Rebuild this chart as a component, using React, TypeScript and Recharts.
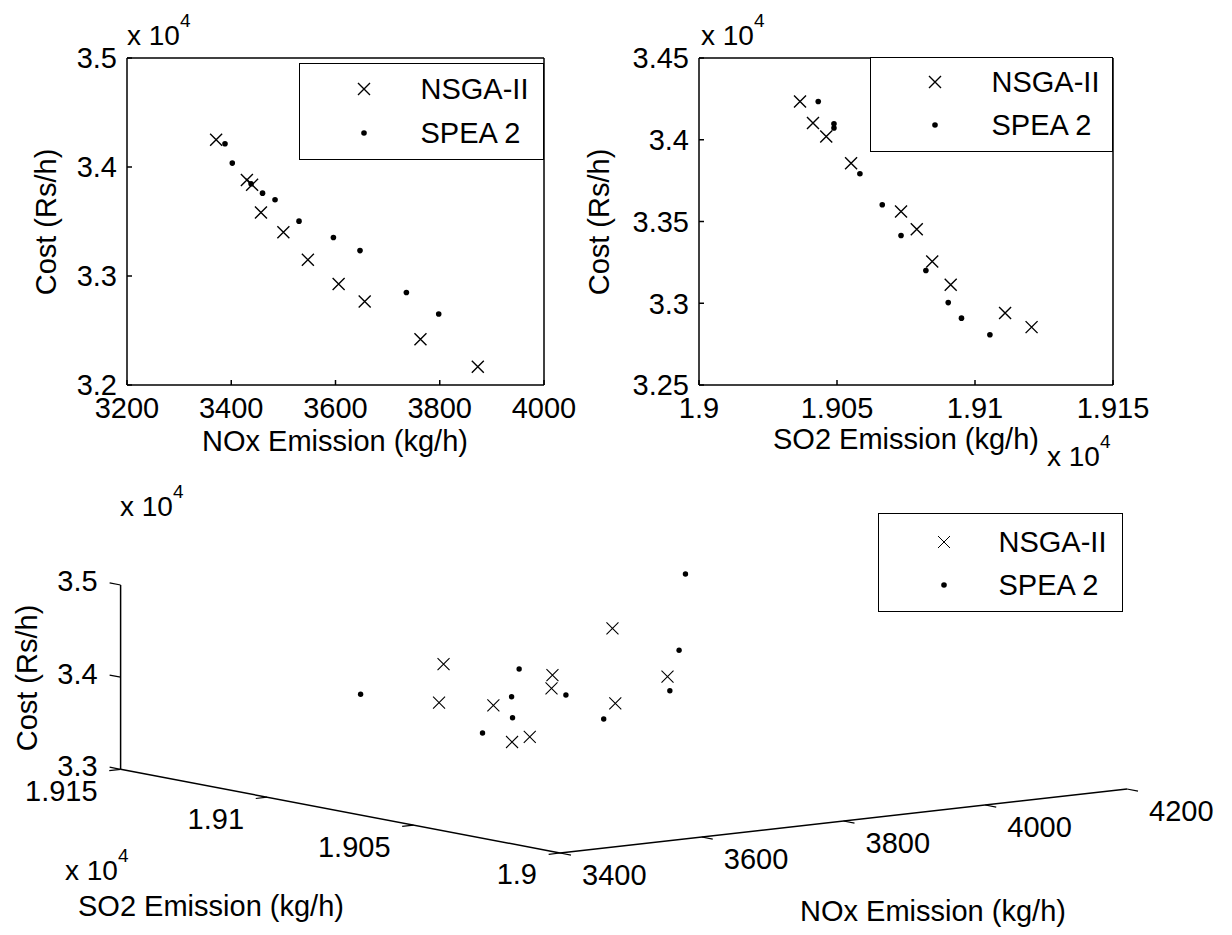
import React from "react";
import { ScatterChart, Scatter, XAxis, YAxis, Legend, ReferenceLine } from "recharts";

// top-left plot: cost against NOx
const nsgaNox = [3371, 3430, 3440, 3457, 3500, 3547, 3606, 3656, 3763, 3873];
const nsgaNoxCost = [34250, 33880, 33837, 33582, 33402, 33148, 32927, 32765, 32420, 32168];
const speaNox = [3388, 3402, 3438, 3460, 3484, 3530, 3596, 3647, 3736, 3798];
const speaNoxCost = [34213, 34036, 33846, 33760, 33699, 33503, 33353, 33233, 32848, 32652];

// top-right plot: cost against SO2
const nsgaSo2 = [19036.6, 19041.3, 19046.1, 19055.1, 19073.2, 19078.9, 19084.5, 19091.2, 19110.9, 19120.5];
const nsgaSo2Cost = [34234, 34102, 34020, 33857, 33561, 33453, 33255, 33113, 32940, 32854];
const speaSo2 = [19043.2, 19048.9, 19048.9, 19058.3, 19066.4, 19073.2, 19082.2, 19090.3, 19095.1, 19105.4];
const speaSo2Cost = [34234, 34098, 34072, 33792, 33602, 33414, 33200, 33004, 32909, 32807];

// bottom 3-D plot (estimated from the projection)
const nsga3dNox = [3525, 3498, 3554, 3539, 3564, 3658, 3636, 3784, 3664, 3779];
const nsga3dSo2 = [19070, 19065, 19060, 19050, 19050, 19065, 19060, 19075, 19045, 19055];
const nsga3dCost = [34518, 34152, 34106, 33781, 33816, 34313, 34219, 34651, 34123, 34251];
const spea3dNox = [3470, 3673, 3621, 3581, 3518, 3615, 3627, 3741, 3816, 3949];
const spea3dSo2 = [19085, 19080, 19070, 19060, 19055, 19050, 19040, 19045, 19060, 19090];
const spea3dCost = [34147, 34275, 34080, 33947, 33867, 34225, 34015, 34193, 34475, 35006];

const noxTicks = [3200, 3400, 3600, 3800, 4000];
const costTicks1 = [32000, 33000, 34000, 35000];
const so2Ticks = [19000, 19050, 19100, 19150];
const costTicks2 = [32500, 33000, 33500, 34000, 34500];
const noxTicks3d = [3400, 3600, 3800, 4000, 4200];
const so2Ticks3d = [19000, 19050, 19100, 19150];
const costTicks3d = [33000, 34000, 35000];
const seriesNames = ["NSGA-II", "SPEA 2"];

const FONT = "'Liberation Sans', Arial, sans-serif";
const sci = (v: number) => String(v / 1e4);
const zip = (xs: number[], ys: number[]) => xs.map((x, i) => ({ x, y: ys[i] }));

const Cross = ({ cx, cy, r = 6, w = 1.4 }: any) => (
  <path
    d={`M${cx - r},${cy - r}L${cx + r},${cy + r}M${cx - r},${cy + r}L${cx + r},${cy - r}`}
    stroke="#000"
    strokeWidth={w}
    fill="none"
  />
);
const Dot = ({ cx, cy, r = 2.8 }: any) => <circle cx={cx} cy={cy} r={r} fill="#000" />;

const legendContent = (rows: number[], markerX: number, textX: number, thin?: boolean) => () => (
  <div
    style={{
      position: "relative",
      width: "100%",
      height: "100%",
      boxSizing: "border-box",
      border: "1.5px solid #000",
      background: "#fff",
      fontFamily: FONT,
    }}
  >
    {seriesNames.map((name, i) => (
      <React.Fragment key={name}>
        <svg width={16} height={16} style={{ position: "absolute", left: markerX - 9, top: rows[i] - 9 }}>
          {i === 0 ? <Cross cx={8} cy={8} w={thin ? 1 : 1.4} /> : <Dot cx={8} cy={8} />}
        </svg>
        <span
          style={{
            position: "absolute",
            left: textX - 1.5,
            top: rows[i] - 1.5,
            transform: "translateY(-50%)",
            fontSize: 29,
            lineHeight: 1,
            whiteSpace: "nowrap",
            color: "#000",
          }}
        >
          {name}
        </span>
      </React.Fragment>
    ))}
  </div>
);

const tickStyle = { fontSize: 29, fill: "#000", fontFamily: FONT };
const lineStyle = { stroke: "#000", strokeWidth: 1.5 };

// axes get 1px of room (a zero-size axis is not drawn), margins make up the rest
function Plot2D(props: any) {
  const { left, width, box, xDomain, xTicks, yDomain, yTicks, nsga, spea, legend, legendPos } = props;
  const margin = { top: box.top - 1, right: box.right - 1, bottom: box.bottom - 1, left: box.left - 1 };
  return (
    <div style={{ position: "absolute", left, top: 0 }}>
      <ScatterChart width={width} height={470} margin={margin}>
        <XAxis
          type="number"
          dataKey="x"
          domain={xDomain}
          ticks={xTicks}
          interval={0}
          allowDataOverflow
          height={1}
          tickSize={-5}
          tickMargin={17}
          tickFormatter={props.xFmt}
          tick={tickStyle}
          axisLine={lineStyle}
          tickLine={lineStyle}
        />
        <XAxis
          xAxisId="top"
          orientation="top"
          type="number"
          dataKey="x"
          domain={xDomain}
          ticks={xTicks}
          interval={0}
          allowDataOverflow
          height={1}
          tickSize={-5}
          tick={false}
          axisLine={lineStyle}
          tickLine={lineStyle}
        />
        <YAxis
          type="number"
          dataKey="y"
          domain={yDomain}
          ticks={yTicks}
          interval={0}
          allowDataOverflow
          width={1}
          tickSize={-5}
          tickMargin={15}
          tickFormatter={sci}
          tick={tickStyle}
          axisLine={lineStyle}
          tickLine={lineStyle}
        />
        <YAxis
          yAxisId="right"
          orientation="right"
          type="number"
          dataKey="y"
          domain={yDomain}
          ticks={yTicks}
          interval={0}
          allowDataOverflow
          width={1}
          tickSize={-5}
          tick={false}
          axisLine={lineStyle}
          tickLine={lineStyle}
        />
        <Legend
          layout="vertical"
          align="center"
          verticalAlign="middle"
          content={legend}
          wrapperStyle={legendPos}
        />
        <Scatter name="NSGA-II" data={nsga} isAnimationActive={false} shape={(p: any) => <Cross cx={p.cx} cy={p.cy} />} />
        <Scatter name="SPEA 2" data={spea} isAnimationActive={false} shape={(p: any) => <Dot cx={p.cx} cy={p.cy} />} />
      </ScatterChart>
    </div>
  );
}

// 3-D view: screen vectors of each axis over its full range, from the common corner
const P0 = { x: 560, y: 853 };
const NOX_VEC = { x: 567, y: -64 };
const SO2_VEC = { x: -439.4, y: -83.7 };
const COST_VEC = { x: 0, y: -184.3 };
const nMin = noxTicks3d[0], nMax = noxTicks3d[noxTicks3d.length - 1];
const sMin = so2Ticks3d[0], sMax = so2Ticks3d[so2Ticks3d.length - 1];
const cMin = costTicks3d[0], cMax = costTicks3d[costTicks3d.length - 1];

const project = (n: number, s: number, c: number) => {
  const a = (n - nMin) / (nMax - nMin);
  const b = (s - sMin) / (sMax - sMin);
  const g = (c - cMin) / (cMax - cMin);
  return {
    px: P0.x + a * NOX_VEC.x + b * SO2_VEC.x + g * COST_VEC.x,
    py: P0.y + a * NOX_VEC.y + b * SO2_VEC.y + g * COST_VEC.y,
  };
};
const seg = (p: any, q: any) => [
  { x: p.px, y: p.py },
  { x: q.px, y: q.py },
];

const nsga3d = nsga3dNox.map((n, i) => project(n, nsga3dSo2[i], nsga3dCost[i]));
const spea3d = spea3dNox.map((n, i) => project(n, spea3dSo2[i], spea3dCost[i]));

const costLabels = costTicks3d.map((c) => {
  const p = project(nMin, sMax, c);
  return { px: p.px - 23, py: p.py - 4, label: sci(c) };
});
const so2Labels = so2Ticks3d.map((s) => {
  const p = project(nMin, s, cMin);
  return { px: p.px - 23, py: p.py + 21, label: sci(s) };
});
const noxLabels = noxTicks3d.map((n) => {
  const p = project(n, sMin, cMin);
  return { px: p.px + 22, py: p.py + 22, label: String(n) };
});

const labelShape = (anchor: string) => (p: any) => (
  <text x={p.cx} y={p.cy} dy="0.36em" textAnchor={anchor} fontSize={29} fontFamily={FONT} fill="#000">
    {p.payload.label}
  </text>
);

function Plot3D() {
  const corner = project(nMin, sMin, cMin);
  const noxEnd = project(nMax, sMin, cMin);
  const so2End = project(nMin, sMax, cMin);
  const costEnd = project(nMin, sMax, cMax);
  const sTick = (sMax - sMin) * 0.025;
  const nTick = (nMax - nMin) * 0.02;
  return (
    <div style={{ position: "absolute", left: 0, top: 460 }}>
      <ScatterChart width={1232} height={475} margin={{ top: 0, right: 0, bottom: 0, left: 0 }}>
        <XAxis type="number" dataKey="px" domain={[0, 1232]} allowDataOverflow hide />
        <YAxis type="number" dataKey="py" domain={[460, 935]} reversed allowDataOverflow hide />
        <ReferenceLine segment={seg(corner, noxEnd)} stroke="#000" strokeWidth={1.5} ifOverflow="visible" />
        <ReferenceLine segment={seg(corner, so2End)} stroke="#000" strokeWidth={1.5} ifOverflow="visible" />
        <ReferenceLine segment={seg(so2End, costEnd)} stroke="#000" strokeWidth={1.5} ifOverflow="visible" />
        {costTicks3d.map((c) => (
          <ReferenceLine
            key={"c" + c}
            segment={seg(project(nMin, sMax, c), project(nMin, sMax + sTick, c))}
            stroke="#000"
            strokeWidth={1.2}
            ifOverflow="visible"
          />
        ))}
        {so2Ticks3d.map((s) => (
          <ReferenceLine
            key={"s" + s}
            segment={seg(project(nMin, s, cMin), project(nMin - nTick, s, cMin))}
            stroke="#000"
            strokeWidth={1.2}
            ifOverflow="visible"
          />
        ))}
        {noxTicks3d.map((n) => (
          <ReferenceLine
            key={"n" + n}
            segment={seg(project(n, sMin, cMin), project(n, sMin - sTick, cMin))}
            stroke="#000"
            strokeWidth={1.2}
            ifOverflow="visible"
          />
        ))}
        <Legend
          layout="vertical"
          align="center"
          verticalAlign="middle"
          content={legendContent([29, 72], 66, 121, true)}
          wrapperStyle={{ left: 878, top: 53, width: 245, height: 99 }}
        />
        <Scatter data={costLabels} legendType="none" isAnimationActive={false} shape={labelShape("end")} />
        <Scatter data={so2Labels} legendType="none" isAnimationActive={false} shape={labelShape("end")} />
        <Scatter data={noxLabels} legendType="none" isAnimationActive={false} shape={labelShape("start")} />
        <Scatter
          name="NSGA-II"
          data={nsga3d}
          isAnimationActive={false}
          shape={(p: any) => <Cross cx={p.cx} cy={p.cy} r={6} w={1.1} />}
        />
        <Scatter name="SPEA 2" data={spea3d} isAnimationActive={false} shape={(p: any) => <Dot cx={p.cx} cy={p.cy} r={2.7} />} />
      </ScatterChart>
    </div>
  );
}

const Exp = ({ x, y }: { x: number; y: number }) => (
  <text x={x} y={y} fontSize={28} fontFamily={FONT} fill="#000">
    x 10
    <tspan dy={-18} fontSize={19}>
      4
    </tspan>
  </text>
);

export default function App() {
  return (
    <div
      style={{
        position: "absolute",
        left: 0,
        top: 0,
        width: 1232,
        height: 935,
        background: "#fff",
        fontFamily: FONT,
        overflow: "hidden",
      }}
    >
      <Plot2D
        left={0}
        width={600}
        box={{ top: 58, right: 56, bottom: 85, left: 127 }}
        xDomain={[3200, 4000]}
        xTicks={noxTicks}
        yDomain={[32000, 35000]}
        yTicks={costTicks1}
        nsga={zip(nsgaNox, nsgaNoxCost)}
        spea={zip(speaNox, speaNoxCost)}
        legend={legendContent([26, 70], 65, 122)}
        legendPos={{ left: 299, top: 63, width: 245, height: 97 }}
      />
      <Plot2D
        left={560}
        width={672}
        box={{ top: 58, right: 119, bottom: 85, left: 139 }}
        xDomain={[19000, 19150]}
        xTicks={so2Ticks}
        xFmt={sci}
        yDomain={[32500, 34500]}
        yTicks={costTicks2}
        nsga={zip(nsgaSo2, nsgaSo2Cost)}
        spea={zip(speaSo2, speaSo2Cost)}
        legend={legendContent([25, 68], 65, 122)}
        legendPos={{ left: 310, top: 57, width: 243, height: 95 }}
      />
      <Plot3D />
      <svg width={1232} height={935} style={{ position: "absolute", left: 0, top: 0, pointerEvents: "none" }}>
        <g fontSize={29} fontFamily={FONT} fill="#000">
          <text x={335} y={451} textAnchor="middle">NOx Emission (kg/h)</text>
          <text x={906} y={449} textAnchor="middle">SO2 Emission (kg/h)</text>
          <text transform="translate(56,222) rotate(-90)" textAnchor="middle">Cost (Rs/h)</text>
          <text transform="translate(609,222) rotate(-90)" textAnchor="middle">Cost (Rs/h)</text>
          <text transform="translate(37,678) rotate(-90)" textAnchor="middle">Cost (Rs/h)</text>
          <text x={211} y={916} textAnchor="middle">SO2 Emission (kg/h)</text>
          <text x={933} y={921} textAnchor="middle">NOx Emission (kg/h)</text>
        </g>
        <Exp x={127} y={45} />
        <Exp x={701} y={45} />
        <Exp x={1047} y={466} />
        <Exp x={120} y={516} />
        <Exp x={65} y={880} />
      </svg>
    </div>
  );
}
